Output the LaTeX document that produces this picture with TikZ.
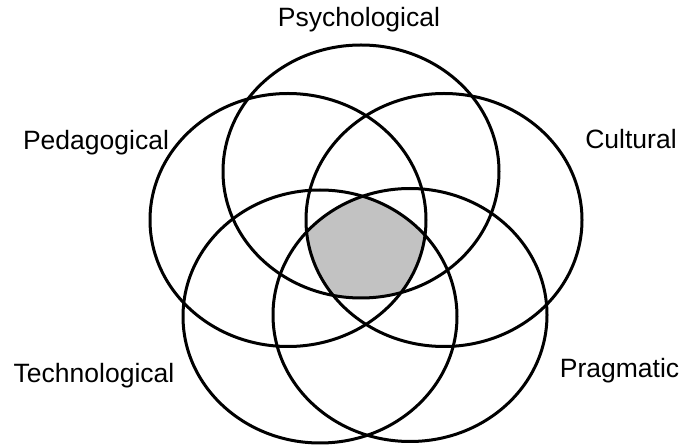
\documentclass[tikz,border=0pt]{standalone}
\usepackage{fontspec}
\setmainfont{Liberation Sans}
\usetikzlibrary{calc}
\definecolor{CoreClr}{rgb}{0.76,0.76,0.76}
\definecolor{RingClr}{rgb}{0,0,0}

\begin{document}
\begin{tikzpicture}[x=1pt,y=-1pt]
\tikzset{ring/.style={line width=3pt,color=RingClr},
  lbl/.style={font=\fontsize{26.5}{30}\selectfont,inner sep=0pt,anchor=base}}
\useasboundingbox (0,0) rectangle (681,446);

\coordinate (Psy) at (361,171.5);
\coordinate (Ped) at (288,220);
\coordinate (Cul) at (444,220);
\coordinate (Tec) at (320,316.5);
\coordinate (Pra) at (410,315);

% common core of all five
\begin{scope}
\clip (Psy) ellipse [x radius=138pt,y radius=126.5pt];
\clip (Ped) ellipse [x radius=138pt,y radius=126.5pt];
\clip (Cul) ellipse [x radius=138pt,y radius=126.5pt];
\clip (Tec) ellipse [x radius=137pt,y radius=126.5pt];
\fill[CoreClr] (Pra) ellipse [x radius=137pt,y radius=126.5pt];
\end{scope}

\foreach \c/\rx in {Psy/138,Ped/138,Cul/138,Tec/137,Pra/137}
  \draw[ring] (\c) ellipse [x radius=\rx pt,y radius=126.5pt];

\node[lbl] (psyLbl) at (359,27) {Psychological};
\node[lbl] (pedLbl) at (96,150) {Pedagogical};
\node[lbl] (culLbl) at (631,149) {Cultural};
\node[lbl] (tecLbl) at (94,383) {Technological};
\node[lbl] (praLbl) at (619.5,378) {Pragmatic};

\end{tikzpicture}
\end{document}
